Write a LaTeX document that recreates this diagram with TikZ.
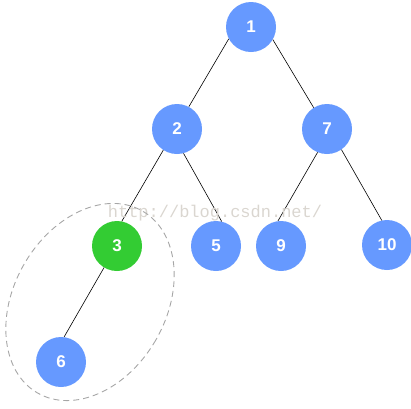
\documentclass[tikz,border=0pt]{standalone}
\usepackage{fontspec}
\setsansfont{Liberation Sans}
\setmonofont{Liberation Mono}
\begin{document}
\begin{tikzpicture}[x=1pt,y=-1pt,line join=round]
\definecolor{keyblue}{RGB}{102,153,255}
\definecolor{keygreen}{RGB}{51,204,51}
\definecolor{markgray}{RGB}{218,214,208}
\tikzset{key/.style={circle,fill=keyblue,minimum size=50pt,inner sep=0pt,text=white,font=\sffamily\bfseries\fontsize{17}{17}\selectfont},
  hit/.style={key,fill=keygreen},
  edge/.style={line width=.6pt}}
\useasboundingbox (0,0) rectangle (411,408);
\node[key] (n1) at (251,27) {1};
\node[key] (n2) at (177,129) {2};
\node[key] (n7) at (327,129) {7};
\node[hit] (n3) at (117,246) {3};
\node[key] (n5) at (216,246) {5};
\node[key] (n9) at (281,246) {9};
\node[key] (n10) at (387,245) {10};
\node[key] (n6) at (61,362) {6};
\draw[edge] (n1.208) -- (n2.62);
\draw[edge] (n1.330) -- (n7.122);
\draw[edge] (n2.237) -- (n3.79);
\draw[edge] (n2.285) -- (n5.77);
\draw[edge] (n7.248) -- (n9.97);
\draw[edge] (n7.305) -- (n10.102);
\draw[edge] (n3.239) -- (n6.83);
\node[text=markgray,font=\ttfamily\fontsize{17}{17}\selectfont] (mark) at (215,213) {http://blog.csdn.net/};
\draw[gray!70,line width=.9pt,dash pattern=on 6pt off 4pt] (90,302) ellipse [x radius=76, y radius=105, rotate=-30];
\end{tikzpicture}
\end{document}
